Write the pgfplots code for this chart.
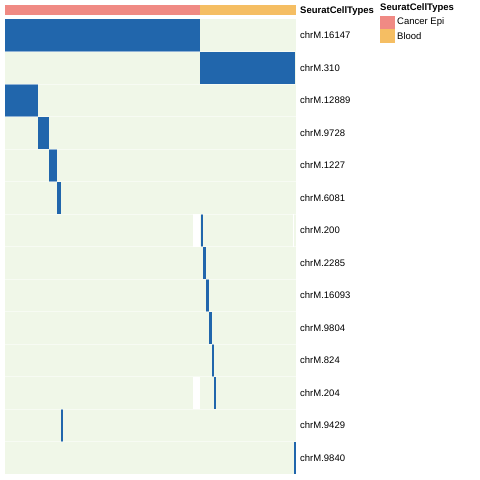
\documentclass[border=0pt]{standalone}
\usepackage{pgfplots}
\pgfplotsset{compat=1.18}
\usepackage{fontspec}
\setmainfont{Liberation Sans}
\definecolor{hmblue}{HTML}{2166AC}
\definecolor{hmbg}{HTML}{F0F7E8}
\definecolor{cepi}{HTML}{F08A84}
\definecolor{blood}{HTML}{F5BE63}
\newcommand{\lfont}{\fontsize{9.5}{11}\selectfont}
\begin{document}
\begin{tikzpicture}
\path[use as bounding box] (0pt,0pt) rectangle (480pt,-480pt);
% annotation bar
\begin{axis}[at={(5pt,-15pt)}, anchor=south west, width=291pt, height=10pt, scale only axis,
  xmin=0, xmax=291, ymin=0, ymax=1, hide axis]
\addplot[fill=cepi, draw=none] coordinates {(0,0) (195,0) (195,1) (0,1)} -- cycle;
\addplot[fill=blood, draw=none] coordinates {(195,0) (291,0) (291,1) (195,1)} -- cycle;
\end{axis}
% heatmap
\begin{axis}[at={(5pt,-474pt)}, anchor=south west, width=291pt, height=455pt, scale only axis,
  xmin=0, xmax=291, ymin=0, ymax=14,
  axis background/.style={fill=hmbg},
  axis line style={draw=none}, tick style={draw=none},
  xtick=\empty,
  ytick={0.5,1.5,...,13.5},
  yticklabels={chrM.9840,chrM.9429,chrM.204,chrM.824,chrM.9804,chrM.16093,chrM.2285,chrM.200,chrM.6081,chrM.1227,chrM.9728,chrM.12889,chrM.310,chrM.16147},
  yticklabel pos=right,
  yticklabel style={font=\lfont, anchor=west, inner sep=0pt, xshift=4pt},
  /pgf/number format/assume math mode=true]
% NA (white) patches
\addplot[fill=white, draw=none] coordinates {(188.3,7) (195,7) (195,8) (188.3,8)} -- cycle;
\addplot[fill=white, draw=none] coordinates {(188.3,2) (195,2) (195,3) (188.3,3)} -- cycle;
\addplot[fill=white, draw=none] coordinates {(288.3,7) (289.2,7) (289.2,8) (288.3,8)} -- cycle;
% blue blocks
\addplot[fill=hmblue, draw=none] coordinates {(0,13) (195,13) (195,14) (0,14)} -- cycle;
\addplot[fill=hmblue, draw=none] coordinates {(195,12) (290,12) (290,13) (195,13)} -- cycle;
\addplot[fill=hmblue, draw=none] coordinates {(0,11) (33.2,11) (33.2,12) (0,12)} -- cycle;
\addplot[fill=hmblue, draw=none] coordinates {(33.5,10) (44,10) (44,11) (33.5,11)} -- cycle;
\addplot[fill=hmblue, draw=none] coordinates {(44.2,9) (52.3,9) (52.3,10) (44.2,10)} -- cycle;
\addplot[fill=hmblue, draw=none] coordinates {(52.5,8) (56,8) (56,9) (52.5,9)} -- cycle;
\addplot[fill=hmblue, draw=none] coordinates {(195.6,7) (198.1,7) (198.1,8) (195.6,8)} -- cycle;
\addplot[fill=hmblue, draw=none] coordinates {(198.4,6) (201,6) (201,7) (198.4,7)} -- cycle;
\addplot[fill=hmblue, draw=none] coordinates {(201.4,5) (204,5) (204,6) (201.4,6)} -- cycle;
\addplot[fill=hmblue, draw=none] coordinates {(204.4,4) (207,4) (207,5) (204.4,5)} -- cycle;
\addplot[fill=hmblue, draw=none] coordinates {(207.2,3) (209.4,3) (209.4,4) (207.2,4)} -- cycle;
\addplot[fill=hmblue, draw=none] coordinates {(209.4,2) (211.4,2) (211.4,3) (209.4,3)} -- cycle;
\addplot[fill=hmblue, draw=none] coordinates {(56,1) (57.8,1) (57.8,2) (56,2)} -- cycle;
\addplot[fill=hmblue, draw=none] coordinates {(289,0) (291,0) (291,1) (289,1)} -- cycle;
% row separators
\pgfplotsinvokeforeach{1,...,13}{
  \addplot[white, line width=0.5pt, opacity=0.5] coordinates {(0,#1) (291,#1)};
}
\end{axis}
\node[anchor=west, inner sep=0pt, font=\lfont\bfseries] at (300pt,-11.5pt) {SeuratCellTypes};
% legend
\node[anchor=west, inner sep=0pt, font=\lfont\bfseries] at (380pt,-8.5pt) {SeuratCellTypes};
\fill[cepi] (380pt,-15.5pt) rectangle (395pt,-29pt);
\fill[blood] (380pt,-29pt) rectangle (395pt,-42.5pt);
\node[anchor=west, inner sep=0pt, font=\lfont] at (397pt,-22.5pt) {Cancer Epi};
\node[anchor=west, inner sep=0pt, font=\lfont] at (397pt,-36pt) {Blood};
\end{tikzpicture}
\end{document}
